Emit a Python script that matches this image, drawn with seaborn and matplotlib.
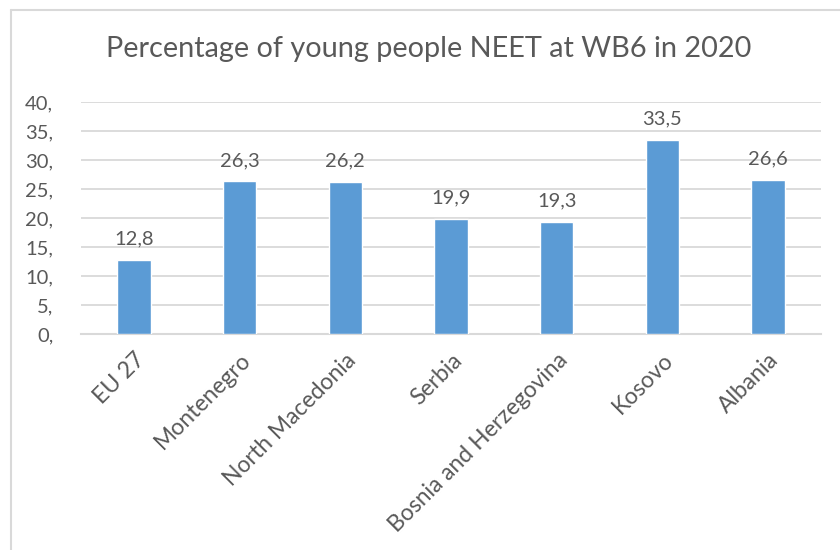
import matplotlib
matplotlib.use("Agg")
import matplotlib.pyplot as plt
import seaborn as sns
import pandas as pd
from matplotlib.lines import Line2D

categories = ["EU 27", "Montenegro", "North Macedonia", "Serbia",
              "Bosnia and Herzegovina", "Kosovo", "Albania"]
values = [12.8, 26.3, 26.2, 19.9, 19.3, 33.5, 26.6]
y_ticks = [0, 5, 10, 15, 20, 25, 30, 35, 40]
y_tick_labels = ["0,", "5,", "10,", "15,", "20,", "25,", "30,", "35,", "40,"]
title = "Percentage of young people NEET at WB6 in 2020"

sns.set_theme(style="white")
plt.rcParams["font.family"] = ["Lato", "DejaVu Sans"]

text_color = "#595959"
bar_color = "#5B9BD5"
grid_color = "#D9D9D9"

df = pd.DataFrame({"country": categories, "value": values})

fig = plt.figure(figsize=(8.4, 5.5), dpi=100)
ax = fig.add_axes([81 / 840, 216 / 550, 740 / 840, 232 / 550])

sns.barplot(data=df, x="country", y="value", color=bar_color,
            width=0.315, saturation=1, ax=ax, zorder=3)

ax.set_ylim(0, 40)
ax.set_xlim(-0.5, len(categories) - 0.5)
ax.set_yticks(y_ticks)
ax.set_yticklabels(y_tick_labels)
ax.yaxis.grid(True, color=grid_color, linewidth=1.3, zorder=0)
ax.set_axisbelow(True)
for side in ["top", "right", "left"]:
    ax.spines[side].set_visible(False)
ax.spines["bottom"].set_color(grid_color)
ax.spines["bottom"].set_linewidth(1.5)
ax.set_xlabel("")
ax.set_ylabel("")
ax.tick_params(axis="y", length=0, pad=20, labelsize=14.5, labelcolor=text_color)
ax.tick_params(axis="x", length=0, pad=11, labelsize=16.5, labelcolor=text_color)
for lab in ax.get_xticklabels():
    lab.set_rotation(45)
    lab.set_ha("right")
    lab.set_rotation_mode("anchor")

for i, v in enumerate(values):
    ax.annotate(f"{v:.1f}".replace(".", ","), (i, v), xytext=(0, 9),
                textcoords="offset points", ha="center", va="bottom",
                fontsize=14.5, color=text_color)

fig.text(429 / 840, 1 - 49 / 550, title, ha="center", va="center",
         fontsize=20.8, color=text_color)

# chart frame (top and left edges)
fig.add_artist(Line2D([10.5 / 840, 1], [1 - 9.5 / 550, 1 - 9.5 / 550],
                      transform=fig.transFigure, color=grid_color, linewidth=1.5))
fig.add_artist(Line2D([10.5 / 840, 10.5 / 840], [0, 1 - 9.5 / 550],
                      transform=fig.transFigure, color=grid_color, linewidth=1.5))

fig.savefig("out.png", dpi=100, facecolor="white")
